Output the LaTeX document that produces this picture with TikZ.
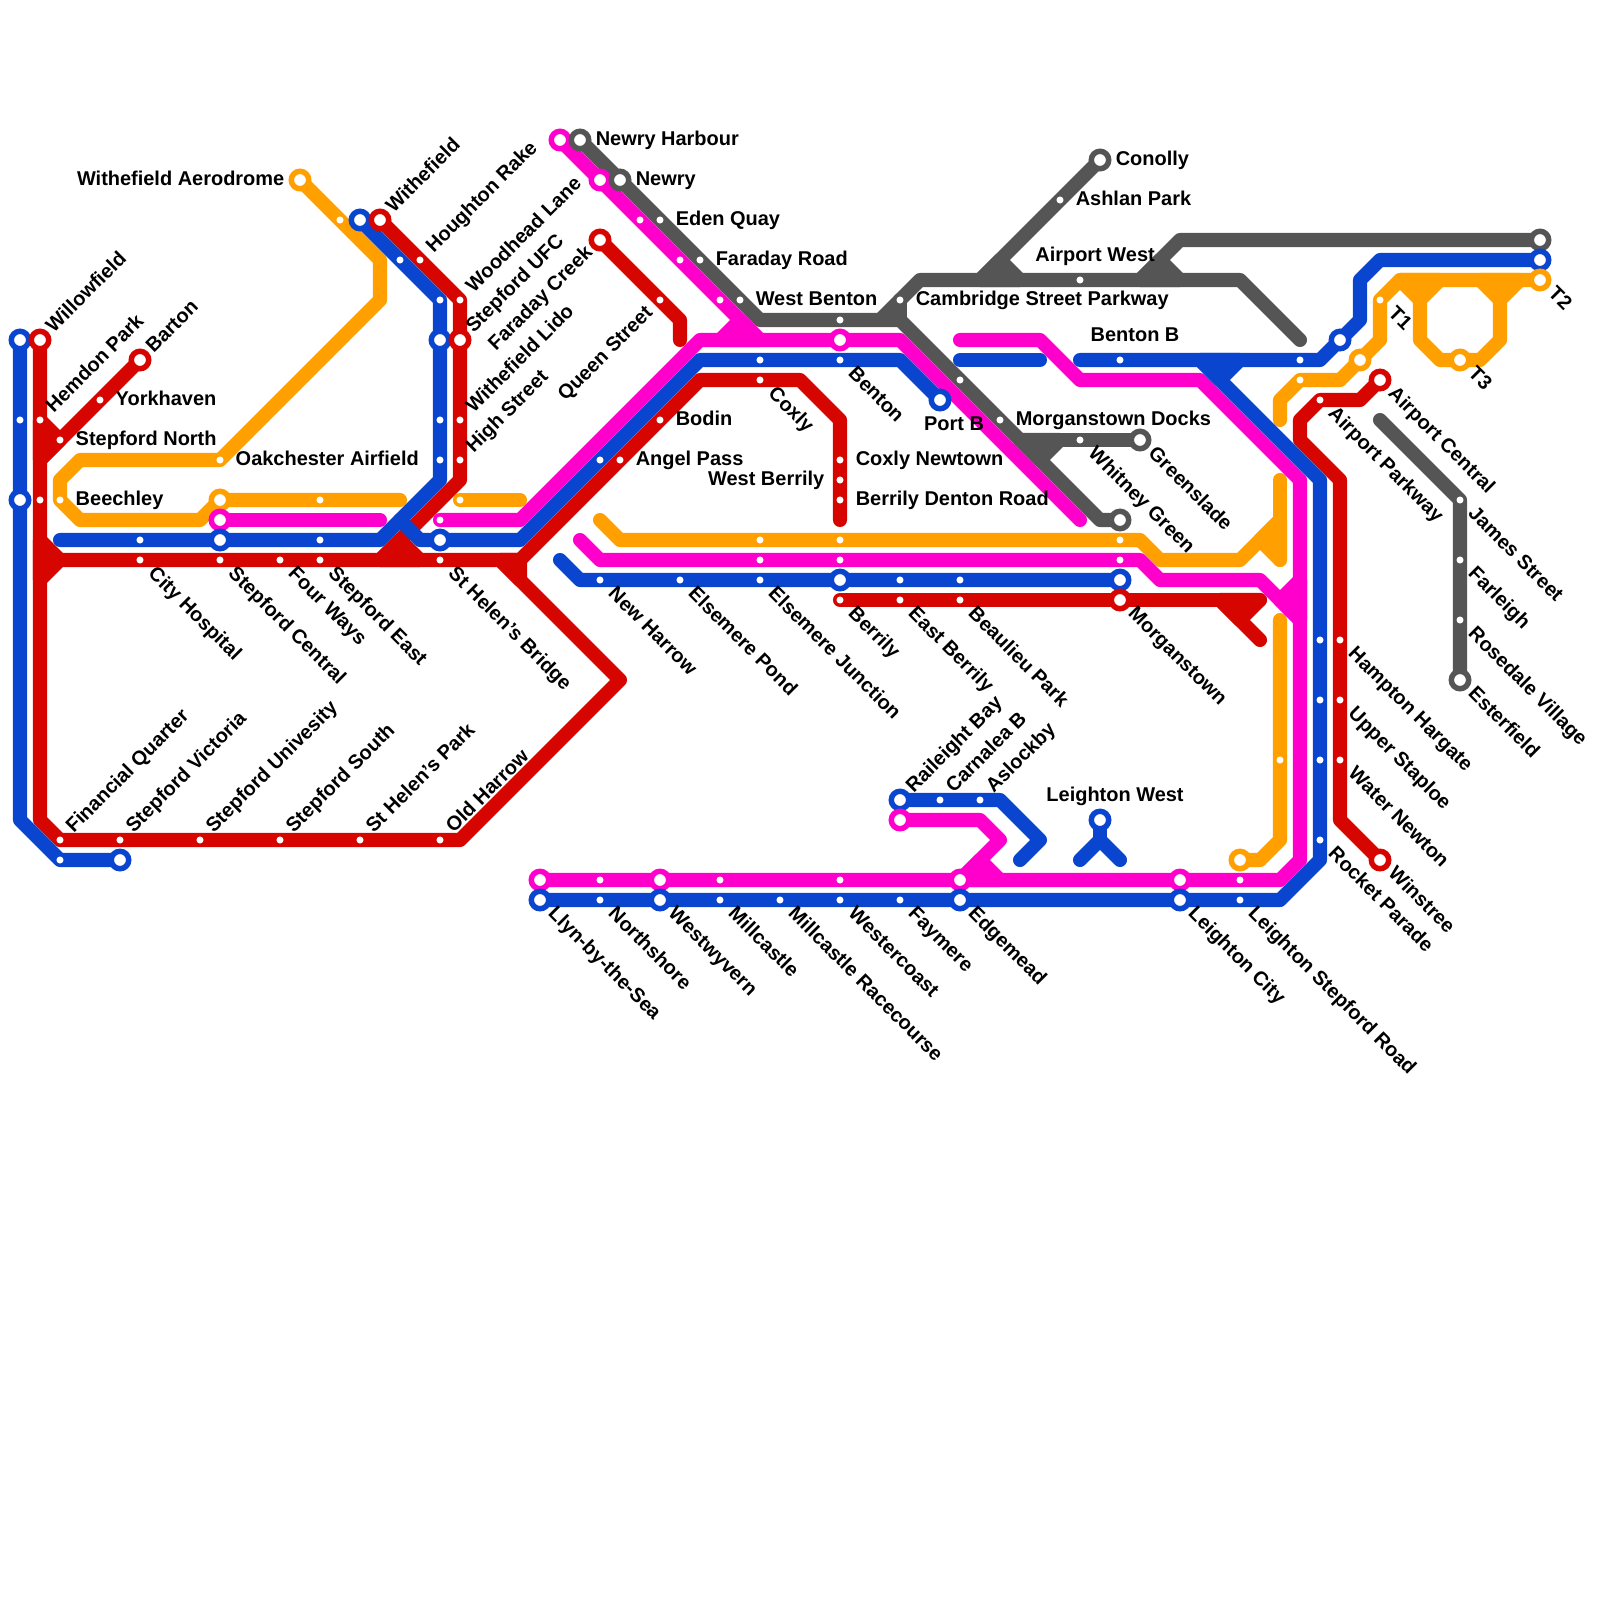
\documentclass[tikz,border=0pt]{standalone}
\usepackage{fontspec}
\setmainfont{Liberation Sans}
\usepackage{xcolor}
\usetikzlibrary{backgrounds}
\definecolor{lineRed}{HTML}{D60500}
\definecolor{lineBlue}{HTML}{0A45CF}
\definecolor{lineMagenta}{HTML}{FF00CC}
\definecolor{lineOrange}{HTML}{FFA000}
\definecolor{lineGrey}{HTML}{555555}
\pgfdeclarelayer{tubes}
\pgfsetlayers{tubes,main}

\begin{document}
\begin{tikzpicture}[
  x=0.5cm, y=-0.5cm,
  every node/.style={font=\bfseries\fontsize{14.2}{16}\selectfont, inner sep=0pt},
  hub/.style={circle, draw=#1, fill=white, line width=3.9pt, minimum size=12.4pt},
  stop/.style={circle, fill=white, minimum size=5pt},
  tube/.style={draw=#1, line width=10pt, line cap=round, line join=round},
  wedge/.style={tube=#1, fill=#1},
  namebase/.style={text height=10.2pt, text depth=0pt},
  namene/.style={namebase, anchor=west, rotate=45, xshift=10pt, yshift=1.4pt},
  namese/.style={namebase, anchor=west, rotate=-45, xshift=11pt, yshift=1.4pt},
  namesw/.style={namebase, anchor=east, rotate=45, xshift=-10pt, yshift=1.4pt},
  namer/.style={namebase, anchor=west, xshift=11pt, yshift=1.4pt},
  namel/.style={namebase, anchor=east, xshift=-11pt, yshift=1.4pt},
  nameup/.style={namebase, xshift=10.7pt, yshift=18.5pt},
]
\useasboundingbox (0,0) rectangle (80,80);

%% Interchanges
\node[hub=lineMagenta] (mNewryHarbour) at (28,7) {};
\node[hub=lineGrey]    (gNewryHarbour) at (29,7) {};
\node[hub=lineGrey]    (gConolly) at (55,8) {};
\node[hub=lineOrange]  (oAerodrome) at (15,9) {};
\node[hub=lineMagenta] (mNewry) at (30,9) {};
\node[hub=lineGrey]    (gNewry) at (31,9) {};
\node[hub=lineBlue]    (bWithefield) at (18,11) {};
\node[hub=lineRed]     (rWithefield) at (19,11) {};
\node[hub=lineRed]     (rFaradayCreek) at (30,12) {};
\node[hub=lineGrey]    (gT2) at (77,12) {};
\node[hub=lineBlue]    (bT2) at (77,13) {};
\node[hub=lineOrange]  (oT2) at (77,14) {};
\node[hub=lineBlue]    (bWillowfield) at (1,17) {};
\node[hub=lineRed]     (rWillowfield) at (2,17) {};
\node[hub=lineBlue]    (bStepfordUFC) at (22,17) {};
\node[hub=lineRed]     (rStepfordUFC) at (23,17) {};
\node[hub=lineMagenta] (mBenton) at (42,17) {};
\node[hub=lineBlue]    (bAirport) at (67,17) {};
\node[hub=lineRed]     (rBarton) at (7,18) {};
\node[hub=lineOrange]  (oAirport) at (68,18) {};
\node[hub=lineOrange]  (oT3) at (73,18) {};
\node[hub=lineRed]     (rAirportCentral) at (69,19) {};
\node[hub=lineBlue]    (bPortB) at (47,20) {};
\node[hub=lineGrey]    (gGreenslade) at (57,22) {};
\node[hub=lineBlue]    (bBeechley) at (1,25) {};
\node[hub=lineOrange]  (oStepfordCentral) at (11,25) {};
\node[hub=lineMagenta] (mStepfordCentral) at (11,26) {};
\node[hub=lineGrey]    (gWhitney) at (56,26) {};
\node[hub=lineBlue]    (bStepfordCentral) at (11,27) {};
\node[hub=lineBlue]    (bStHelensBridge) at (22,27) {};
\node[hub=lineBlue]    (bBerrily) at (42,29) {};
\node[hub=lineBlue]    (bMorganstown) at (56,29) {};
\node[hub=lineRed]     (rMorganstown) at (56,30) {};
\node[hub=lineGrey]    (gEsterfield) at (73,34) {};
\node[hub=lineBlue]    (bRaileight) at (45,40) {};
\node[hub=lineMagenta] (mRaileight) at (45,41) {};
\node[hub=lineBlue]    (bLeightonWest) at (55,41) {};
\node[hub=lineBlue]    (bVictoria) at (6,43) {};
\node[hub=lineOrange]  (oLeighton) at (62,43) {};
\node[hub=lineRed]     (rWinstree) at (69,43) {};
\node[hub=lineMagenta] (mLlyn) at (27,44) {};
\node[hub=lineMagenta] (mWestwyvern) at (33,44) {};
\node[hub=lineMagenta] (mEdgemead) at (48,44) {};
\node[hub=lineMagenta] (mLeightonCity) at (59,44) {};
\node[hub=lineBlue]    (bLlyn) at (27,45) {};
\node[hub=lineBlue]    (bWestwyvern) at (33,45) {};
\node[hub=lineBlue]    (bEdgemead) at (48,45) {};
\node[hub=lineBlue]    (bLeightonCity) at (59,45) {};

%% Red stops
\node[stop] (rYorkhaven) at (5,20) {};
\node[stop] (rHemdon) at (2,21) {};
\node[stop] (rStepfordNorth) at (3,22) {};
\node[stop] (rBeechley) at (2,25) {};
\node[stop] (rCityHospital) at (7,28) {};
\node[stop] (rStepfordCentral) at (11,28) {};
\node[stop] (rFourWays) at (14,28) {};
\node[stop] (rStepfordEast) at (16,28) {};
\node[stop] (rStHelensBridge) at (22,28) {};
\node[stop] (rFinancial) at (3,42) {};
\node[stop] (rVictoria) at (6,42) {};
\node[stop] (rUnivesity) at (10,42) {};
\node[stop] (rSouth) at (14,42) {};
\node[stop] (rStHelensPark) at (18,42) {};
\node[stop] (rOldHarrow) at (22,42) {};
\node[stop] (rHoughton) at (21,13) {};
\node[stop] (rWoodhead) at (23,15) {};
\node[stop] (rLido) at (23,21) {};
\node[stop] (rHighStreet) at (23,23) {};
\node[stop] (rQueenStreet) at (33,15) {};
\node[stop] (rCoxly) at (38,19) {};
\node[stop] (rBodin) at (33,21) {};
\node[stop] (rAngelPass) at (31,23) {};
\node[stop] (rCoxlyNewtown) at (42,23) {};
\node[stop] (rWestBerrily) at (42,24) {};
\node[stop] (rDentonRoad) at (42,25) {};
\node[stop] (rBerrily) at (42,30) {};
\node[stop] (rEastBerrily) at (45,30) {};
\node[stop] (rBeaulieu) at (48,30) {};
\node[stop] (rAirportParkway) at (66,20) {};
\node[stop] (rHampton) at (67,32) {};
\node[stop] (rStaploe) at (67,35) {};
\node[stop] (rWaterNewton) at (67,38) {};

%% Blue stops
\node[stop] (bHemdon) at (1,21) {};
\node[stop] (bHoughton) at (20,13) {};
\node[stop] (bWoodhead) at (22,15) {};
\node[stop] (bLido) at (22,21) {};
\node[stop] (bHighStreet) at (22,23) {};
\node[stop] (bCityHospital) at (7,27) {};
\node[stop] (bStepfordEast) at (16,27) {};
\node[stop] (bFinancial) at (3,43) {};
\node[stop] (bCoxly) at (38,18) {};
\node[stop] (bBenton) at (42,18) {};
\node[stop] (bAngelPass) at (30,23) {};
\node[stop] (bNewHarrow) at (30,29) {};
\node[stop] (bElsemerePond) at (34,29) {};
\node[stop] (bElsemereJunction) at (38,29) {};
\node[stop] (bEastBerrily) at (45,29) {};
\node[stop] (bBeaulieu) at (48,29) {};
\node[stop] (bBentonB) at (56,18) {};
\node[stop] (bParkway) at (65,18) {};
\node[stop] (bHampton) at (66,32) {};
\node[stop] (bStaploe) at (66,35) {};
\node[stop] (bWaterNewton) at (66,38) {};
\node[stop] (bRocketParade) at (66,42) {};
\node[stop] (bCarnalea) at (47,40) {};
\node[stop] (bAslockby) at (49,40) {};
\node[stop] (bNorthshore) at (30,45) {};
\node[stop] (bMillcastle) at (36,45) {};
\node[stop] (bRacecourse) at (39,45) {};
\node[stop] (bWestercoast) at (42,45) {};
\node[stop] (bFaymere) at (45,45) {};
\node[stop] (bStepfordRoad) at (62,45) {};

%% Magenta stops
\node[stop] (mEdenQuay) at (32,11) {};
\node[stop] (mFaradayRoad) at (34,13) {};
\node[stop] (mWestBenton) at (36,15) {};
\node[stop] (mStHelensBridge) at (22,26) {};
\node[stop] (mElsemere) at (38,28) {};
\node[stop] (mBerrily) at (42,28) {};
\node[stop] (mMorganstown) at (56,28) {};
\node[stop] (mNorthshore) at (30,44) {};
\node[stop] (mMillcastle) at (36,44) {};
\node[stop] (mWestercoast) at (42,44) {};
\node[stop] (mStepfordRoad) at (62,44) {};

%% Orange stops
\node[stop] (oWithefield) at (17,11) {};
\node[stop] (oOakchester) at (11,23) {};
\node[stop] (oBeechley) at (3,25) {};
\node[stop] (oStepfordEast) at (16,25) {};
\node[stop] (oHighStreet) at (23,25) {};
\node[stop] (oElsemere) at (38,27) {};
\node[stop] (oBerrily) at (42,27) {};
\node[stop] (oMorganstown) at (56,27) {};
\node[stop] (oT1) at (69,15) {};
\node[stop] (oParkway) at (65,19) {};
\node[stop] (oWaterNewton) at (64,38) {};

%% Grey stops
\node[stop] (gEdenQuay) at (33,11) {};
\node[stop] (gFaradayRoad) at (35,13) {};
\node[stop] (gWestBenton) at (37,15) {};
\node[stop] (gBenton) at (42,16) {};
\node[stop] (gCambridge) at (45,15) {};
\node[stop] (gAshlan) at (53,10) {};
\node[stop] (gAirportWest) at (54,14) {};
\node[stop] (gPortB) at (48,19) {};
\node[stop] (gDocks) at (50,21) {};
\node[stop] (gWhitneyGreen) at (54,22) {};
\node[stop] (gJames) at (73,25) {};
\node[stop] (gFarleigh) at (73,28) {};
\node[stop] (gRosedale) at (73,31) {};

%% Free line ends
\coordinate (oEndA) at (20,25);
\coordinate (oEndB) at (26,25);
\coordinate (oEndC) at (30,26);
\coordinate (oEndD) at (64,21);
\coordinate (oEndE) at (64,24);
\coordinate (oEndF) at (64,31);
\coordinate (mEndA) at (19,26);
\coordinate (mEndB) at (29,27);
\coordinate (mEndC) at (48,17);
\coordinate (mEndD) at (54,26);
\coordinate (bEndA) at (3,27);
\coordinate (bEndB) at (28,28);
\coordinate (bEndC) at (48,18);
\coordinate (bEndD) at (52,18);
\coordinate (bEndE) at (54,18);
\coordinate (bEndF) at (51,43);
\coordinate (bEndG) at (54,43);
\coordinate (bEndH) at (56,43);
\coordinate (rEndA) at (42,26);
\coordinate (rEndB) at (34,17);
\coordinate (rEndC) at (63,30);
\coordinate (rEndD) at (63,32);
\coordinate (gEndA) at (65,17);
\coordinate (gEndB) at (69,21);

\begin{pgfonlayer}{tubes}
%% Orange line
\draw[tube=lineOrange] (oAerodrome.center) -- (oWithefield.center) -- (19,13) -- (19,15) -- (oOakchester.center) -- (4,23) -- (3,24) -- (oBeechley.center) -- (4,26) -- (10,26) -- (oStepfordCentral.center) -- (oEndA);
\draw[tube=lineOrange] (oHighStreet.center) -- (oEndB);
\draw[tube=lineOrange] (oEndC) -- (31,27) -- (57,27) -- (58,28) -- (62,28) -- (64,26);
\draw[tube=lineOrange] (oEndE) -- (64,28);
\draw[wedge=lineOrange] (63,27) -- (64,26) -- (64,28) -- cycle;
\draw[tube=lineOrange] (oEndF) -- (64,42) -- (63,43) -- (oLeighton.center);
\draw[tube=lineOrange] (oEndD) -- (64,20) -- (oParkway.center) -- (67,19) -- (oAirport.center) -- (69,17) -- (oT1.center) -- (70,14) -- (oT2.center);
\draw[tube=lineOrange] (71,15) -- (71,17) -- (72,18) -- (oT3.center) -- (74,18) -- (75,17) -- (75,15);
\draw[wedge=lineOrange] (70,14) -- (71,15) -- (72,14) -- cycle;
\draw[wedge=lineOrange] (74,14) -- (75,15) -- (76,14) -- cycle;

%% Grey line
\draw[tube=lineGrey] (gNewryHarbour.center) -- (38,16) -- (45,16) -- (55,26) -- (gWhitney.center);
\draw[tube=lineGrey] (44,16) -- (46,14) -- (62,14) -- (gEndA);
\draw[tube=lineGrey] (45,16) -- (gCambridge.center);
\draw[tube=lineGrey] (gConolly.center) -- (49,14);
\draw[wedge=lineGrey] (49,14) -- (50,13) -- (51,14) -- cycle;
\draw[tube=lineGrey] (57,14) -- (59,12) -- (gT2.center);
\draw[wedge=lineGrey] (57,14) -- (58,13) -- (59,14) -- cycle;
\draw[tube=lineGrey] (51,22) -- (gGreenslade.center);
\draw[wedge=lineGrey] (51,22) -- (53,22) -- (52,23) -- cycle;
\draw[tube=lineGrey] (gEndB) -- (gJames.center) -- (gEsterfield.center);

%% Red line
\draw[tube=lineRed] (rWillowfield.center) -- (2,41) -- (3,42) -- (23,42) -- (31,34) -- (25,28);
\draw[tube=lineRed] (rBarton.center) -- (2,23);
\draw[wedge=lineRed] (2,21) -- (3,22) -- (2,23) -- cycle;
\draw[wedge=lineRed] (2,27) -- (3,28) -- (2,29) -- cycle;
\draw[tube=lineRed] (3,28) -- (26,28) -- (35,19) -- (40,19) -- (42,21) -- (rEndA);
\draw[wedge=lineRed] (25,28) -- (26,28) -- (26,29) -- cycle;
\draw[tube=lineRed] (rWithefield.center) -- (rWoodhead.center) -- (23,24) -- (19,28);
\draw[wedge=lineRed] (19,28) -- (20,27) -- (21,28) -- cycle;
\draw[tube=lineRed] (rFaradayCreek.center) -- (rQueenStreet.center) -- (34,16) -- (rEndB);
\draw[tube=lineRed] (rBerrily.center) -- (rEndC);
\draw[tube=lineRed] (61,30) -- (rEndD);
\draw[wedge=lineRed] (61,30) -- (rEndC) -- (62,31) -- cycle;
\draw[tube=lineRed] (rAirportCentral.center) -- (68,20) -- (rAirportParkway.center) -- (65,21) -- (65,22) -- (67,24) -- (67,41) -- (rWinstree.center);

%% Magenta line
\draw[tube=lineMagenta] (mStepfordCentral.center) -- (mEndA);
\draw[tube=lineMagenta] (mStHelensBridge.center) -- (26,26) -- (35,17) -- (45,17) -- (mEndD);
\draw[tube=lineMagenta] (mNewryHarbour.center) -- (38,17);
\draw[wedge=lineMagenta] (36,17) -- (37,16) -- (38,17) -- cycle;
\draw[tube=lineMagenta] (mEndB) -- (30,28) -- (57,28) -- (58,29) -- (63,29) -- (65,31);
\draw[wedge=lineMagenta] (65,29) -- (64,30) -- (65,31) -- cycle;
\draw[tube=lineMagenta] (mEndC) -- (52,17) -- (54,19) -- (60,19) -- (65,24) -- (65,43) -- (64,44) -- (mLlyn.center);
\draw[tube=lineMagenta] (mRaileight.center) -- (49,41) -- (50,42) -- (mEdgemead.center);
\draw[wedge=lineMagenta] (48,44) -- (49,43) -- (50,44) -- cycle;

%% Blue line
\draw[tube=lineBlue] (bWillowfield.center) -- (1,41) -- (bFinancial.center) -- (bVictoria.center);
\draw[tube=lineBlue] (bEndA) -- (19,27) -- (22,24) -- (bWoodhead.center) -- (bWithefield.center);
\draw[tube=lineBlue] (20,26) -- (21,27) -- (26,27) -- (35,18) -- (45,18) -- (bPortB.center);
\draw[tube=lineBlue] (bEndB) -- (29,29) -- (bMorganstown.center);
\draw[tube=lineBlue] (bEndC) -- (bEndD);
\draw[tube=lineBlue] (bEndE) -- (66,18) -- (68,16) -- (68,14) -- (69,13) -- (bT2.center);
\draw[tube=lineBlue] (60,18) -- (66,24) -- (66,43) -- (64,45) -- (bLlyn.center);
\draw[wedge=lineBlue] (60,18) -- (62,18) -- (61,19) -- cycle;
\draw[tube=lineBlue] (bRaileight.center) -- (50,40) -- (52,42) -- (bEndF);
\draw[tube=lineBlue] (bLeightonWest.center) -- (55,42);
\draw[tube=lineBlue] (bEndG) -- (55,42) -- (bEndH);
\end{pgfonlayer}

%% Names up and to the right
\node[namene] (lWillowfield) at (rWillowfield) {Willowfield};
\node[namene] (lHemdon) at (rHemdon) {Hemdon Park};
\node[namene] (lBarton) at (rBarton) {Barton};
\node[namene] (lWithefield) at (rWithefield) {Withefield};
\node[namene] (lHoughton) at (rHoughton) {Houghton Rake};
\node[namene] (lWoodhead) at (rWoodhead) {Woodhead Lane};
\node[namene] (lStepfordUFC) at (rStepfordUFC) {Stepford UFC};
\node[namene] (lLido) at (rLido) {Withefield Lido};
\node[namene] (lHighStreet) at (rHighStreet) {High Street};
\node[namene] (lFinancial) at (rFinancial) {Financial Quarter};
\node[namene] (lVictoria) at (rVictoria) {Stepford Victoria};
\node[namene] (lUnivesity) at (rUnivesity) {Stepford Univesity};
\node[namene] (lSouth) at (rSouth) {Stepford South};
\node[namene] (lStHelensPark) at (rStHelensPark) {St Helen's Park};
\node[namene] (lOldHarrow) at (rOldHarrow) {Old Harrow};
\node[namene] (lRaileight) at (bRaileight) {Raileight Bay};
\node[namene] (lCarnalea) at (bCarnalea) {Carnalea B};
\node[namene] (lAslockby) at (bAslockby) {Aslockby};
\node[namesw] (lFaradayCreek) at (rFaradayCreek) {Faraday Creek};
\node[namesw] (lQueenStreet) at (rQueenStreet) {Queen Street};

%% Names down and to the right
\node[namese] (lCityHospital) at (rCityHospital) {City Hospital};
\node[namese] (lStepfordCentral) at (rStepfordCentral) {Stepford Central};
\node[namese] (lFourWays) at (rFourWays) {Four Ways};
\node[namese] (lStepfordEast) at (rStepfordEast) {Stepford East};
\node[namese] (lStHelensBridge) at (rStHelensBridge) {St Helen's Bridge};
\node[namese] (lNewHarrow) at (bNewHarrow) {New Harrow};
\node[namese] (lElsemerePond) at (bElsemerePond) {Elsemere Pond};
\node[namese] (lElsemereJunction) at (bElsemereJunction) {Elsemere Junction};
\node[namese] (lBerrily) at (rBerrily) {Berrily};
\node[namese] (lEastBerrily) at (rEastBerrily) {East Berrily};
\node[namese] (lBeaulieu) at (rBeaulieu) {Beaulieu Park};
\node[namese] (lMorganstown) at (rMorganstown) {Morganstown};
\node[namese] (lCoxly) at (rCoxly) {Coxly};
\node[namese] (lBenton) at (bBenton) {Benton};
\node[namese] (lWhitney) at (gWhitneyGreen) {Whitney Green};
\node[namese] (lGreenslade) at (gGreenslade) {Greenslade};
\node[namese] (lT1) at (oT1) {T1};
\node[namese] (lT2) at (oT2) {T2};
\node[namese] (lT3) at (oT3) {T3};
\node[namese] (lAirportCentral) at (rAirportCentral) {Airport Central};
\node[namese] (lAirportParkway) at (rAirportParkway) {Airport Parkway};
\node[namese] (lJames) at (gJames) {James Street};
\node[namese] (lFarleigh) at (gFarleigh) {Farleigh};
\node[namese] (lRosedale) at (gRosedale) {Rosedale Village};
\node[namese] (lEsterfield) at (gEsterfield) {Esterfield};
\node[namese] (lHampton) at (rHampton) {Hampton Hargate};
\node[namese] (lStaploe) at (rStaploe) {Upper Staploe};
\node[namese] (lWaterNewton) at (rWaterNewton) {Water Newton};
\node[namese] (lWinstree) at (rWinstree) {Winstree};
\node[namese] (lRocketParade) at (bRocketParade) {Rocket Parade};
\node[namese] (lLlyn) at (bLlyn) {Llyn-by-the-Sea};
\node[namese] (lNorthshore) at (bNorthshore) {Northshore};
\node[namese] (lWestwyvern) at (bWestwyvern) {Westwyvern};
\node[namese] (lMillcastle) at (bMillcastle) {Millcastle};
\node[namese] (lRacecourse) at (bRacecourse) {Millcastle Racecourse};
\node[namese] (lWestercoast) at (bWestercoast) {Westercoast};
\node[namese] (lFaymere) at (bFaymere) {Faymere};
\node[namese] (lEdgemead) at (bEdgemead) {Edgemead};
\node[namese] (lLeightonCity) at (bLeightonCity) {Leighton City};
\node[namese] (lStepfordRoad) at (bStepfordRoad) {Leighton Stepford Road};

%% Level names
\node[namer] (lYorkhaven) at (rYorkhaven) {Yorkhaven};
\node[namer] (lStepfordNorth) at (rStepfordNorth) {Stepford North};
\node[namer] (lOakchester) at (oOakchester) {Oakchester Airfield};
\node[namer] (lBeechley) at (oBeechley) {Beechley};
\node[namer] (lNewryHarbour) at (gNewryHarbour) {Newry Harbour};
\node[namer] (lNewry) at (gNewry) {Newry};
\node[namer] (lEdenQuay) at (gEdenQuay) {Eden Quay};
\node[namer] (lFaradayRoad) at (gFaradayRoad) {Faraday Road};
\node[namer] (lWestBenton) at (gWestBenton) {West Benton};
\node[namer] (lBodin) at (rBodin) {Bodin};
\node[namer] (lAngelPass) at (rAngelPass) {Angel Pass};
\node[namer] (lCoxlyNewtown) at (rCoxlyNewtown) {Coxly Newtown};
\node[namer] (lDentonRoad) at (rDentonRoad) {Berrily Denton Road};
\node[namer] (lCambridge) at (gCambridge) {Cambridge Street Parkway};
\node[namer] (lConolly) at (gConolly) {Conolly};
\node[namer] (lAshlan) at (gAshlan) {Ashlan Park};
\node[namer] (lDocks) at (gDocks) {Morganstown Docks};
\node[namel] (lAerodrome) at (oAerodrome) {Withefield Aerodrome};
\node[namel] (lWestBerrily) at (rWestBerrily) {West Berrily};
\node[nameup] (lAirportWest) at (gAirportWest) {Airport West};
\node[nameup] (lBentonB) at (bBentonB) {Benton B};
\node[nameup] (lLeightonWest) at (bLeightonWest) {Leighton West};
\node[namebase, xshift=10pt, yshift=-16.4pt] (lPortB) at (bPortB) {Port B};

\end{tikzpicture}
\end{document}
